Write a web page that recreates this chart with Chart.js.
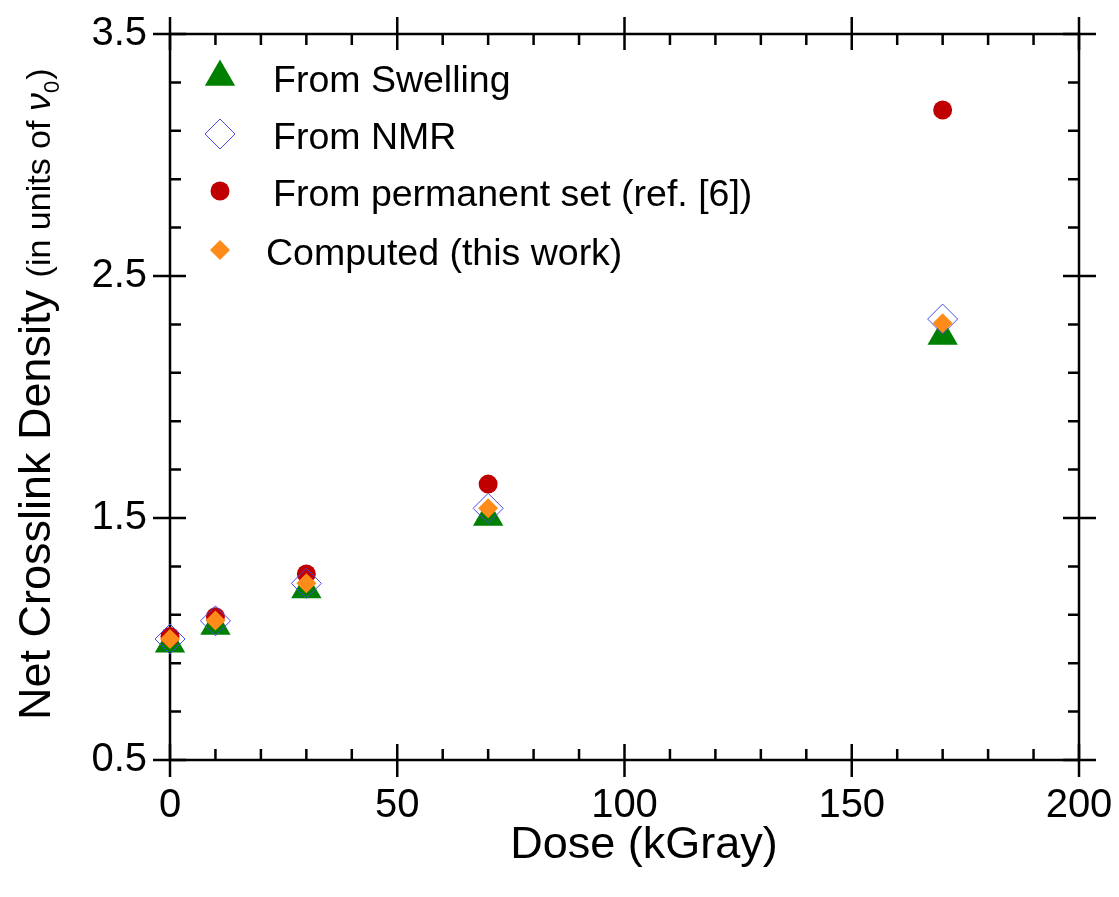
<!DOCTYPE html>
<html>
<head>
<meta charset="utf-8">
<script src="https://cdn.jsdelivr.net/npm/chart.js@4.4.1/dist/chart.umd.min.js"></script>
<style>
  html, body { margin: 0; padding: 0; background: #fff; }
  #wrap { width: 1119px; height: 897px; }
</style>
</head>
<body>
<div id="wrap"><canvas id="crosslinkChart" width="1119" height="897"></canvas></div>
<script>
// dose values (kGray) and the four series
const doses = [0, 10, 30, 70, 170];
const fromSwelling = [0.98, 1.054, 1.205, 1.504, 2.252];
const fromNMR = [1.0, 1.075, 1.23, 1.54, 2.322];
const fromPermanentSet = [1.01, 1.092, 1.269, 1.64, 3.186];
const computed = [1.0, 1.076, 1.23, 1.54, 2.305];

const seriesLabels = ['From Swelling', 'From NMR', 'From permanent set (ref. [6])', 'Computed (this work)'];
const xTickValues = [0, 50, 100, 150, 200];
const yTickValues = [0.5, 1.5, 2.5, 3.5];
const xMinorStep = 10;
const yMinorStep = 0.2;

const FONT = "'Liberation Sans', Arial, sans-serif";

function toPoints(ys) {
  return doses.map((d, i) => ({ x: d, y: ys[i] }));
}

// box with ticks crossing at majors and pointing inward at minors
const framePlugin = {
  id: 'frame',
  beforeDatasetsDraw(chart) {
    const { ctx, chartArea: a, scales: { x, y } } = chart;
    ctx.save();
    ctx.strokeStyle = '#000';
    ctx.lineWidth = 2.5;
    ctx.strokeRect(a.left, a.top, a.right - a.left, a.bottom - a.top);
    ctx.beginPath();
    const nx = Math.round((x.max - x.min) / xMinorStep);
    for (let i = 0; i <= nx; i++) {
      const v = x.min + i * xMinorStep;
      const px = x.getPixelForValue(v);
      const major = xTickValues.some(t => Math.abs(t - v) < 1e-6);
      const inLen = major ? 16 : 11;
      const outLen = major ? 17 : 0;
      ctx.moveTo(px, a.bottom + outLen); ctx.lineTo(px, a.bottom - inLen);
      ctx.moveTo(px, a.top - outLen); ctx.lineTo(px, a.top + inLen);
    }
    const ny = Math.round((y.max - y.min) / yMinorStep);
    for (let i = 0; i <= ny; i++) {
      const v = y.min + i * yMinorStep;
      const py = y.getPixelForValue(v);
      const major = yTickValues.some(t => Math.abs(t - v) < 1e-6);
      const inLen = major ? 16 : 11;
      const outLen = major ? 17 : 0;
      ctx.moveTo(a.left - outLen, py); ctx.lineTo(a.left + inLen, py);
      ctx.moveTo(a.right + outLen, py); ctx.lineTo(a.right - inLen, py);
    }
    ctx.stroke();
    ctx.restore();
  }
};

// legend inside the plot, top left
const legendPlugin = {
  id: 'insideLegend',
  afterDatasetsDraw(chart) {
    const { ctx } = chart;
    const rows = [77, 134, 191, 250];
    const textX = [273, 273, 273, 266];
    ctx.save();
    chart.data.datasets.forEach((ds, i) => {
      ctx.fillStyle = ds.pointBackgroundColor;
      ctx.strokeStyle = ds.pointBorderColor;
      ctx.lineWidth = ds.pointBorderWidth;
      Chart.helpers.drawPoint(ctx, {
        pointStyle: ds.pointStyle,
        radius: ds.pointRadius,
        rotation: 0,
        borderWidth: ds.pointBorderWidth
      }, 220, rows[i]);
      ctx.fillStyle = '#000';
      ctx.font = '37.5px ' + FONT;
      ctx.textBaseline = 'middle';
      ctx.textAlign = 'left';
      ctx.fillText(ds.label, textX[i], rows[i] + 5);
    });
    ctx.restore();
  }
};

// axis titles: y has a smaller unit part with nu subscript 0
const titlesPlugin = {
  id: 'axisTitles',
  afterDraw(chart) {
    const { ctx } = chart;
    ctx.save();
    ctx.fillStyle = '#000';
    ctx.font = '45px ' + FONT;
    ctx.textAlign = 'center';
    ctx.textBaseline = 'middle';
    ctx.fillText('Dose (kGray)', 644, 846);

    ctx.translate(50, 720);
    ctx.rotate(-Math.PI / 2);
    ctx.textBaseline = 'alphabetic';
    ctx.textAlign = 'left';
    let cx = 0;
    ctx.font = '45px ' + FONT;
    ctx.fillText('Net Crosslink Density', cx, 0);
    cx += ctx.measureText('Net Crosslink Density ').width;
    ctx.font = '34px ' + FONT;
    ctx.fillText('(in units of ', cx, 0);
    cx += ctx.measureText('(in units of ').width;
    ctx.font = 'italic 36px ' + FONT;
    ctx.fillText('\u03bd', cx, 0);
    cx += ctx.measureText('\u03bd').width;
    ctx.font = '22px ' + FONT;
    ctx.fillText('0', cx, 9);
    cx += ctx.measureText('0').width + 1;
    ctx.font = '34px ' + FONT;
    ctx.fillText(')', cx, 0);
    ctx.restore();
  }
};

const ctx = document.getElementById('crosslinkChart').getContext('2d');
new Chart(ctx, {
  type: 'scatter',
  data: {
    datasets: [
      {
        label: seriesLabels[0],
        data: toPoints(fromSwelling),
        pointStyle: 'triangle',
        pointRadius: 17.5,
        pointBackgroundColor: '#008000',
        pointBorderColor: '#008000',
        pointBorderWidth: 0,
        order: 3,
        clip: false
      },
      {
        label: seriesLabels[1],
        data: toPoints(fromNMR),
        pointStyle: 'rectRot',
        pointRadius: 15,
        pointBackgroundColor: 'rgba(0,0,0,0)',
        pointBorderColor: '#4a4ae6',
        pointBorderWidth: 1,
        order: 1,
        clip: false
      },
      {
        label: seriesLabels[2],
        data: toPoints(fromPermanentSet),
        pointStyle: 'circle',
        pointRadius: 9.5,
        pointBackgroundColor: '#c00000',
        pointBorderColor: '#c00000',
        pointBorderWidth: 0,
        order: 2,
        clip: false
      },
      {
        label: seriesLabels[3],
        data: toPoints(computed),
        pointStyle: 'rectRot',
        pointRadius: 10,
        pointBackgroundColor: '#ff8c1a',
        pointBorderColor: '#ff8c1a',
        pointBorderWidth: 0,
        order: 0,
        clip: false
      }
    ]
  },
  options: {
    responsive: false,
    animation: false,
    devicePixelRatio: 1,
    layout: { padding: { top: 34, right: 40, left: 0, bottom: 0 } },
    plugins: {
      legend: { display: false },
      tooltip: { enabled: false }
    },
    scales: {
      x: {
        type: 'linear',
        min: 0,
        max: 200,
        afterBuildTicks: s => { s.ticks = xTickValues.map(v => ({ value: v })); },
        afterFit: s => {
          s.height = 137;
          s.paddingLeft = 0;
          s.paddingRight = 0;
        },
        grid: { display: false, drawTicks: false },
        border: { display: false },
        ticks: {
          color: '#000',
          font: { family: FONT, size: 40 },
          padding: 22,
          maxRotation: 0
        }
      },
      y: {
        type: 'linear',
        min: 0.5,
        max: 3.5,
        afterBuildTicks: s => { s.ticks = yTickValues.map(v => ({ value: v })); },
        afterFit: s => {
          s.width = 170;
          s.paddingTop = 0;
          s.paddingBottom = 0;
        },
        grid: { display: false, drawTicks: false },
        border: { display: false },
        ticks: {
          color: '#000',
          font: { family: FONT, size: 40 },
          padding: 23,
          callback: v => Number(v).toFixed(1)
        }
      }
    }
  },
  plugins: [framePlugin, legendPlugin, titlesPlugin]
});
</script>
</body>
</html>
